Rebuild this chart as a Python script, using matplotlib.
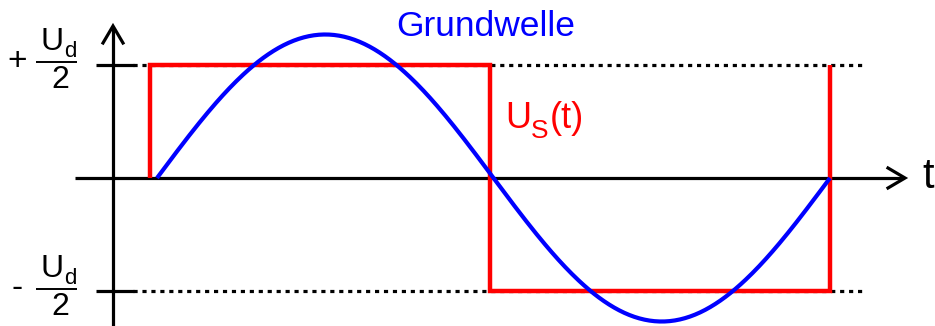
import numpy as np
import matplotlib
matplotlib.use("Agg")
import matplotlib.pyplot as plt

# ---- data (time in periods, voltage in units of U_d/2) ----
square_t = [0.0, 0.0, 0.5, 0.5, 1.0, 1.0]
square_u = [0.0, 1.0, 1.0, -1.0, -1.0, 1.0]
fund_amplitude = 1.27      # ~4/pi
fund_start = 0.0103
fund_period = 0.9897
level_values = [1.0, -1.0]
level_labels = ["+", "-"]

W, H = 935, 326
fig = plt.figure(figsize=(W / 100, H / 100), dpi=100)
ax = fig.add_axes([0, 0, 1, 1])

# pixel mapping helpers for layout
X0, XS = 150.0, 680.0
Y0, YS = 178.0, 113.0
def px(x):
    return (x - X0) / XS
def py(y):
    return (Y0 - y) / YS

ax.set_xlim(px(0), px(W))
ax.set_ylim(py(H), py(0))
ax.axis("off")

FONT = "Liberation Sans"

# dotted level lines and ticks
for v in level_values:
    ax.plot([px(133), px(862)], [v, v], color="black", lw=2.3,
            linestyle=(0, (1.3, 1.5)), dash_capstyle="butt", zorder=1)
    ax.plot([px(96), px(134)], [v, v], color="black", lw=2.3, zorder=2,
            solid_capstyle="butt")

# axes with arrows
ax.plot([px(75), px(902)], [0, 0], color="black", lw=2.3, zorder=2, solid_capstyle="butt")
ax.plot([px(113), px(113)], [py(H + 5), py(28)], color="black", lw=2.3, zorder=2,
        solid_capstyle="butt")
# arrowheads (open chevrons)
ax.plot([px(888), px(905), px(888)], [py(168), 0, py(188)], color="black", lw=2.3,
        zorder=2, solid_joinstyle="miter")
ax.plot([px(103), px(113), px(123)], [py(43), py(26), py(43)], color="black", lw=2.3,
        zorder=2, solid_joinstyle="miter")

# square wave
ax.plot(square_t, square_u, color="#ff0000", lw=3.2, zorder=3,
        solid_joinstyle="miter", solid_capstyle="butt")

# fundamental
t = np.linspace(fund_start, fund_start + fund_period, 400)
ax.plot(t, fund_amplitude * np.sin(2 * np.pi * (t - fund_start) / fund_period),
        color="#0000ff", lw=3.0, zorder=4, solid_capstyle="butt")

# labels
ax.text(px(486), py(36), "Grundwelle", color="#0000ff", fontsize=25.5, family=FONT,
        ha="center", va="baseline")
ax.text(px(505), py(128), "U", color="#ff0000", fontsize=26, family=FONT,
        ha="left", va="baseline")
ax.text(px(531), py(138), "S", color="#ff0000", fontsize=19, family=FONT,
        ha="left", va="baseline")
ax.text(px(550), py(128), "(t)", color="#ff0000", fontsize=26, family=FONT,
        ha="left", va="baseline")
ax.text(px(922), py(188), "t", color="black", fontsize=30, family=FONT,
        ha="left", va="baseline")

# +/- U_d / 2 fractions
for sign, off in zip(level_labels, [0, 227]):
    ax.text(px(17), py(70 + off), sign, color="black", fontsize=24, family=FONT,
            ha="center", va="baseline")
    ax.text(px(41), py(50 + off), "U", color="black", fontsize=23, family=FONT,
            ha="left", va="baseline")
    ax.text(px(64), py(57 + off), "d", color="black", fontsize=16, family=FONT,
            ha="left", va="baseline")
    ax.plot([px(36), px(77)], [py(62 + off), py(62 + off)], color="black", lw=1.4,
            solid_capstyle="butt")
    ax.text(px(60), py(88 + off), "2", color="black", fontsize=23, family=FONT,
            ha="center", va="baseline")

fig.savefig("out.png", dpi=100)
